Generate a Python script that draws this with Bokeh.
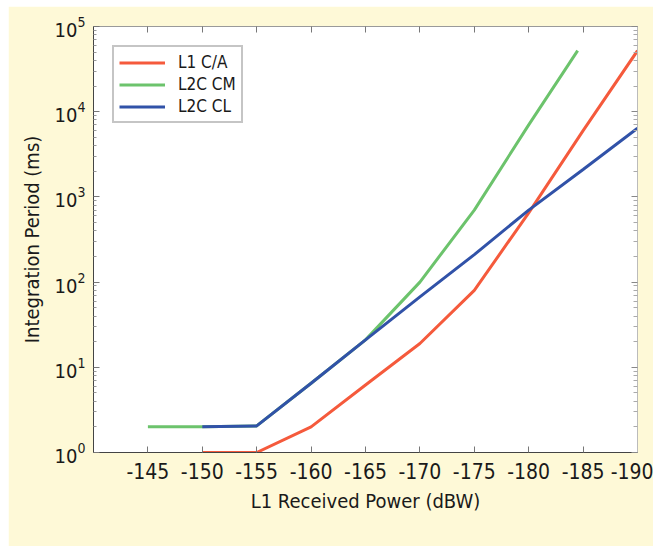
from bokeh.plotting import figure
from bokeh.models import Range1d, FixedTicker, LinearAxis, LogAxis
from bokeh.embed import file_html
from bokeh.resources import INLINE

# ---- data ----
power_ca = [-150, -155, -160, -165, -170, -175, -180, -185, -190]
period_ca = [1, 1, 2, 6.2, 19, 80, 650, 6000, 52000]

power_cm = [-145, -150, -155, -160, -165, -170, -175, -180, -184.5]
period_cm = [2, 2, 2.05, 6.5, 21, 100, 700, 7000, 52000]

power_cl = [-150, -155, -160, -165, -170, -175, -180, -185, -190]
period_cl = [2, 2.05, 6.5, 21, 67, 210, 700, 2100, 6400]

x_ticks = [-145, -150, -155, -160, -165, -170, -175, -180, -185, -190]
x_tick_labels = ["-145", "-150", "-155", "-160", "-165", "-170", "-175", "-180", "-185", "-190"]
y_ticks = [1, 10, 100, 1000, 10000, 100000]
y_minor = [m * 10 ** e for e in range(5) for m in range(2, 10)]

series_names = ["L1 C/A", "L2C CM", "L2C CL"]
series_colors = ["#f55a3c", "#6cc36c", "#3152a8"]

CREAM = "#fef9d7"
FONT = "'DejaVu Sans Condensed', Roboto, sans-serif"

p = figure(width=645, height=540,
           x_range=Range1d(-140, -190), y_range=Range1d(1, 1e5),
           y_axis_type="log", output_backend="svg", toolbar_location=None,
           min_border_left=85, min_border_right=16,
           min_border_top=20, min_border_bottom=94)
p.margin = (6, 0, 0, 8)
p.border_fill_color = CREAM
p.background_fill_color = "white"
p.outline_line_color = "#9a9a9a"
p.outline_line_width = 1
p.grid.visible = False

for xs, ys, name, col in zip([power_ca, power_cm, power_cl],
                             [period_ca, period_cm, period_cl],
                             series_names, series_colors):
    p.line(xs, ys, line_color=col, line_width=3, legend_label=name)

# bottom axis
xa = p.xaxis[0]
xa.ticker = FixedTicker(ticks=x_ticks)
xa.major_label_overrides = dict(zip(x_ticks, x_tick_labels))
xa.major_tick_in = 6
xa.major_tick_out = 0
xa.minor_tick_line_color = None
xa.major_tick_line_color = "#777777"
xa.axis_line_color = "#444444"
xa.major_label_standoff = 10
xa.major_label_text_font = FONT
xa.major_label_text_font_size = "21px"
xa.major_label_text_color = "#1a1a1a"
xa.axis_label = "L1 Received Power (dBW)"
xa.axis_label_text_font = FONT
xa.axis_label_text_font_size = "20px"
xa.axis_label_text_font_style = "normal"
xa.axis_label_text_color = "#1a1a1a"
xa.axis_label_standoff = 7

# left axis
ya = p.yaxis[0]
ya.ticker = FixedTicker(ticks=y_ticks, minor_ticks=y_minor)
ya.major_tick_in = 6
ya.major_tick_out = 0
ya.minor_tick_in = 3
ya.minor_tick_out = 0
ya.major_tick_line_color = "#777777"
ya.minor_tick_line_color = "#999999"
ya.axis_line_color = "#444444"
ya.major_label_standoff = 8
ya.major_label_text_font = FONT
ya.major_label_text_font_size = "20px"
ya.major_label_text_color = "#1a1a1a"
ya.axis_label = "Integration Period (ms)"
ya.axis_label_text_font = FONT
ya.axis_label_text_font_size = "20px"
ya.axis_label_text_font_style = "normal"
ya.axis_label_text_color = "#1a1a1a"
ya.axis_label_standoff = 8

# top axis (ticks only)
top = LinearAxis(ticker=FixedTicker(ticks=x_ticks))
top.major_tick_in = 6
top.major_tick_out = 0
top.minor_tick_line_color = None
top.major_tick_line_color = "#777777"
top.axis_line_color = "#9a9a9a"
top.major_label_text_font_size = "4px"
top.major_label_text_color = None
top.major_label_standoff = 0
p.add_layout(top, "above")

# right axis (ticks only)
right = LogAxis(ticker=FixedTicker(ticks=y_ticks, minor_ticks=y_minor))
right.major_tick_in = 6
right.major_tick_out = 0
right.minor_tick_in = 4
right.minor_tick_out = 0
right.major_tick_line_color = "#888888"
right.minor_tick_line_color = "#aaaaaa"
right.axis_line_color = "#bbbbbb"
right.major_label_text_font_size = "4px"
right.major_label_text_color = None
right.major_label_standoff = 0
p.add_layout(right, "right")

# legend
lg = p.legend[0]
lg.location = "top_left"
lg.margin = 19
lg.padding = 5
lg.spacing = 2
lg.glyph_width = 46
lg.glyph_height = 19
lg.label_standoff = 13
lg.label_height = 19
lg.label_text_font = FONT
lg.label_text_font_size = "17px"
lg.label_text_color = "#1a1a1a"
lg.border_line_color = "#8c8c8c"
lg.border_line_width = 2
lg.background_fill_color = "white"
lg.background_fill_alpha = 1.0

open("out.html", "w").write(file_html(p, INLINE))
